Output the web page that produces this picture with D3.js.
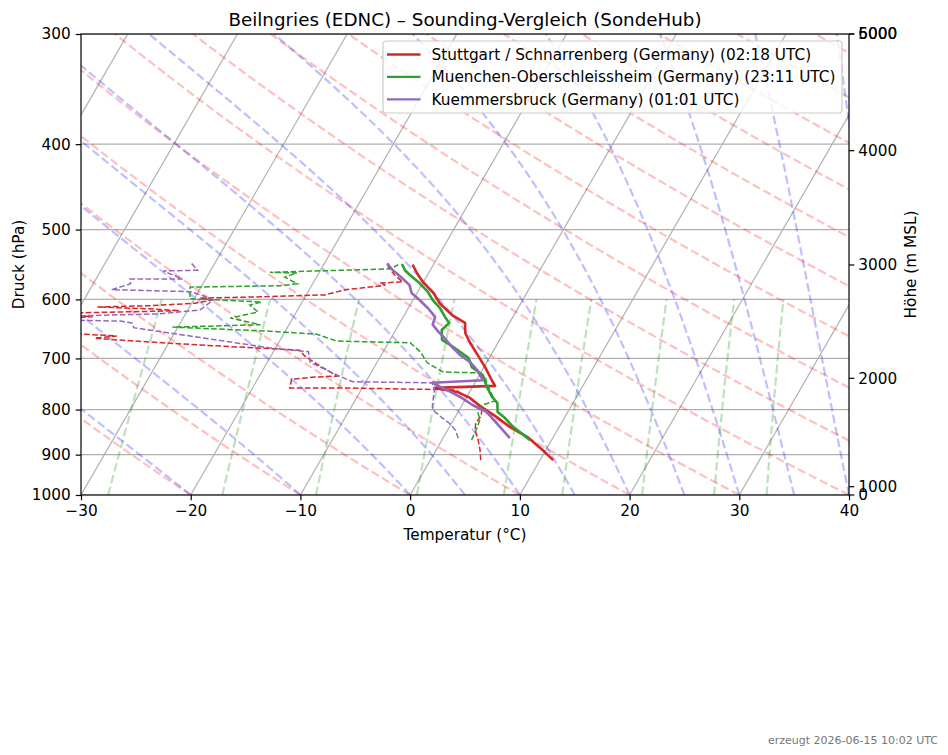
<!DOCTYPE html>
<html>
<head>
<meta charset="utf-8">
<script src="https://cdn.jsdelivr.net/npm/d3@7/dist/d3.min.js"></script>
<style>
  body { margin: 0; background: #fff; }
  text { font-family: "DejaVu Sans", sans-serif; }
</style>
</head>
<body>
<div id="chart"></div>
<script>
// ---- sounding data (pressure hPa, temperature / dewpoint °C), surface upward ----
var stuttgartP  = [913, 889, 859, 837, 816, 795, 776, 764, 756, 752, 741, 716, 694, 672, 655, 638, 625, 606, 590, 574, 560, 548];
var stuttgartT  = [11.2, 9.7, 7.6, 5.5, 3.8, 1.9, 0.35, -1.15, -3.4, 2.0, 1.4, 0.1, -1.2, -2.55, -3.5, -4.05, -5.65, -7.4, -8.5, -10.0, -11.06, -11.9];
var stuttgartDP = [913, 889, 866, 844, 829, 814, 797, 780, 760, 758, 756, 756, 739, 735, 733, 714, 696, 685, 676, 667, 664, 660, 655, 630, 628, 622, 618, 615, 612, 610, 606, 601, 598, 596, 593, 585, 581, 578, 575, 573, 563, 550];
var stuttgartTd = [4.6, 4.0, 3.3, 2.5, 2.2, 2.3, 2.0, 0.6, -1.4, -6.5, -12.0, -16.6, -16.9, -14.9, -12.9, -15.0, -16.9, -17.7, -27.0, -34.9, -37.0, -35.1, -40.4, -41.2, -38.3, -41.5, -30.7, -33.5, -38.4, -33.7, -29.7, -28.3, -29.5, -24.1, -18.3, -16.7, -14.6, -13.3, -13.9, -11.9, -13.0, -14.1];

var muenchenP  = [866, 851, 837, 818, 805, 786, 774, 754, 731, 716, 699, 679, 667, 650, 638, 628, 614, 601, 588, 575, 563, 556, 547];
var muenchenT  = [8.0, 6.9, 5.8, 4.6, 3.6, 3.1, 2.3, 1.3, 0.3, -1.1, -1.9, -3.9, -5.25, -5.8, -5.5, -6.2, -7.1, -8.2, -9.1, -10.3, -11.6, -12.3, -12.9];
var muenchenDP = [866, 844, 822, 805, 791, 782, 764, 737, 727, 725, 708, 688, 672, 669, 657, 652, 645, 641, 630, 620, 609, 604, 599, 581, 579, 576, 566, 560, 559, 554, 548];
var muenchenTd = [2.7, 2.6, 2.4, 1.8, 1.8, 2.8, 1.9, 0.7, -0.3, -3.5, -5.4, -6.6, -8.0, -14.8, -17.0, -21.4, -30.5, -22.6, -25.7, -23.5, -24.6, -23.7, -30.4, -31.0, -22.9, -21.4, -22.9, -22.0, -24.5, -13.7, -13.2];

var kuemP  = [862, 829, 805, 791, 774, 760, 746, 741, 721, 707, 694, 679, 664, 653, 641, 628, 614, 601, 590, 578, 567, 556, 546];
var kuemT  = [6.1, 4.1, 2.6, 1.0, -0.6, -2.2, -3.9, 0.6, -0.5, -1.5, -2.8, -4.0, -5.1, -6.0, -6.9, -7.1, -8.2, -9.4, -10.5, -11.1, -12.2, -13.4, -14.3];
var kuemDP = [862, 844, 829, 818, 805, 795, 776, 760, 746, 744, 731, 707, 688, 681, 646, 638, 635, 633, 627, 623, 617, 601, 595, 588, 585, 576, 569, 569, 557, 556, 544];
var kuemTd = [1.4, 0.7, -0.2, -1.1, -2.1, -2.6, -3.0, -3.3, -3.9, -11.2, -13.0, -16.1, -16.8, -20.5, -34.0, -34.4, -35.6, -41.1, -41.3, -32.3, -28.9, -28.2, -29.2, -30.7, -38.0, -36.6, -36.9, -32.1, -34.3, -31.2, -32.3];

var stationNames = ["Stuttgart / Schnarrenberg (Germany) (02:18 UTC)",
                    "Muenchen-Oberschleissheim (Germany) (23:11 UTC)",
                    "Kuemmersbruck (Germany) (01:01 UTC)"];

// ---- axis ticks ----
var tempTicks = [-30, -20, -10, 0, 10, 20, 30, 40];
var pressureTicks = [1000, 900, 800, 700, 600, 500, 400, 300];
var heightLabels = [0, 1000, 2000, 3000, 4000, 5000, 6000];
var heightTickP  = [1000, 978.6, 737.3, 548.4, 406.9, 300, 300];

// ---- background line parameters ----
var isotherms = d3.range(-50, 41, 10);
var dryT0 = d3.range(-30, 201, 10);
var moistT0 = [-30, -20, -10, 0, 5, 10, 15, 20, 25, 30, 35, 40, 45];
var mixingRatios = [0.0004, 0.001, 0.002, 0.004, 0.007, 0.01, 0.016, 0.024, 0.032];

var margin = {top: 34, left: 81},
    width = 768,
    height = 461,
    fs = "15.3px";

var svg = d3.select("#chart")
    .append("svg")
    .attr("width", 948)
    .attr("height", 755);

var g = svg.append("g")
    .attr("transform", "translate(" + margin.left + "," + margin.top + ")");

var x = d3.scaleLinear().domain([-30, 40]).range([0, width]);
var y = d3.scaleLog().domain([1000, 300]).range([height, 0]);
var skew = Math.tan(30 * Math.PI / 180);

// skewed position of a (T, p) point
function px(T, p) { return x(T) + (height - y(p)) * skew; }

var line = d3.line()
    .x(function(d) { return px(d[0], d[1]); })
    .y(function(d) { return y(d[1]); });

g.append("clipPath").attr("id", "plot-clip")
    .append("rect").attr("width", width).attr("height", height);

var plot = g.append("g").attr("clip-path", "url(#plot-clip)");

// grid
plot.selectAll(".hgrid")
    .data(pressureTicks)
    .enter().append("line")
    .attr("x1", 0).attr("x2", width)
    .attr("y1", function(d) { return y(d); })
    .attr("y2", function(d) { return y(d); })
    .style("stroke", "#b0b0b0").style("stroke-width", 1.2);

plot.selectAll(".isotherm")
    .data(isotherms)
    .enter().append("path")
    .attr("d", function(t) { return line([[t, 1000], [t, 300]]); })
    .style("fill", "none").style("stroke", "#b0b0b0").style("stroke-width", 1.2);

var pLevels = d3.range(1000, 299, -10);

// dry adiabats
var Rd = 287.04749, Cp = 1004.6662, Lv = 2.50084e6, eps = 0.6219569;
plot.selectAll(".dry")
    .data(dryT0)
    .enter().append("path")
    .attr("d", function(t0) {
        return line(pLevels.map(function(p) {
            return [(t0 + 273.15) * Math.pow(p / 1000, Rd / Cp) - 273.15, p];
        }));
    })
    .style("fill", "none").style("stroke", "red").style("stroke-opacity", 0.25)
    .style("stroke-width", 2.2).style("stroke-dasharray", "8.5,3.7");

// moist adiabats
function satVap(T) { return 6.112 * Math.exp(17.67 * (T - 273.15) / (T - 29.65)); }
function dTdp(p, T) {
    var es = satVap(T);
    var rs = eps * es / (p - es);
    var frac = (Rd * T + Lv * rs) / (Cp + (Lv * Lv * rs * eps / (Rd * T * T)));
    return frac / p;
}
function moistAdiabat(t0) {
    var T = t0 + 273.15, pts = [[t0, 1000]], h = -2;
    for (var p = 1000; p > 300; p += h) {
        var k1 = dTdp(p, T),
            k2 = dTdp(p + h / 2, T + h / 2 * k1),
            k3 = dTdp(p + h / 2, T + h / 2 * k2),
            k4 = dTdp(p + h, T + h * k3);
        T += h / 6 * (k1 + 2 * k2 + 2 * k3 + k4);
        pts.push([T - 273.15, p + h]);
    }
    return pts;
}
plot.selectAll(".moist")
    .data(moistT0)
    .enter().append("path")
    .attr("d", function(t0) { return line(moistAdiabat(t0)); })
    .style("fill", "none").style("stroke", "blue").style("stroke-opacity", 0.25)
    .style("stroke-width", 2.2).style("stroke-dasharray", "8.5,3.7");

// mixing ratio lines
var mixLevels = d3.range(1000, 599, -10);
plot.selectAll(".mixing")
    .data(mixingRatios)
    .enter().append("path")
    .attr("d", function(w) {
        return line(mixLevels.map(function(p) {
            var l = Math.log(p * w / (eps + w) / 6.112);
            return [243.5 * l / (17.67 - l), p];
        }));
    })
    .style("fill", "none").style("stroke", "green").style("stroke-opacity", 0.25)
    .style("stroke-width", 2.2).style("stroke-dasharray", "8.5,3.7");

// soundings
var stations = [
    {name: stationNames[0], color: "#d62728", p: stuttgartP, t: stuttgartT, dp: stuttgartDP, td: stuttgartTd},
    {name: stationNames[1], color: "#2ca02c", p: muenchenP, t: muenchenT, dp: muenchenDP, td: muenchenTd},
    {name: stationNames[2], color: "#9467bd", p: kuemP, t: kuemT, dp: kuemDP, td: kuemTd}
];

stations.forEach(function(s) {
    plot.append("path")
        .attr("d", line(s.dp.map(function(p, i) { return [s.td[i], p]; })))
        .style("fill", "none").style("stroke", s.color)
        .style("stroke-width", 1.5).style("stroke-dasharray", "5.6,2.4");
    plot.append("path")
        .attr("d", line(s.p.map(function(p, i) { return [s.t[i], p]; })))
        .style("fill", "none").style("stroke", s.color)
        .style("stroke-width", 2.6).style("stroke-linejoin", "round");
});

// axes
var xAxis = g.append("g")
    .attr("transform", "translate(0," + height + ")")
    .call(d3.axisBottom(x).tickValues(tempTicks).tickSize(5.3).tickPadding(5)
        .tickFormat(function(d) { return d < 0 ? "\u2212" + Math.abs(d) : d; }));

var yAxis = g.append("g")
    .call(d3.axisLeft(y).tickValues(pressureTicks).tickSize(5.3).tickPadding(5)
        .tickFormat(d3.format("d")));

var rAxis = g.append("g").attr("transform", "translate(" + width + ",0)");
rAxis.selectAll(".rtick")
    .data(heightLabels)
    .enter().append("g")
    .attr("transform", function(d, i) { return "translate(0," + y(heightTickP[i]) + ")"; })
    .each(function(d) {
        d3.select(this).append("line").attr("x2", 5.3).style("stroke", "#000").style("stroke-width", 1.2);
        d3.select(this).append("text").attr("x", 9.3).attr("dy", "0.35em")
            .style("font-size", fs).text(d);
    });

[xAxis, yAxis].forEach(function(a) {
    a.selectAll("text").style("font-size", fs).style("font-family", "DejaVu Sans").style("fill", "#000");
    a.selectAll("line").style("stroke", "#000").style("stroke-width", 1.2);
    a.select(".domain").remove();
});

g.append("rect")
    .attr("width", width).attr("height", height)
    .style("fill", "none").style("stroke", "#000").style("stroke-width", 1.2);

// labels
svg.append("text")
    .attr("x", margin.left + width / 2).attr("y", 26)
    .attr("text-anchor", "middle").style("font-size", "18.3px")
    .text("Beilngries (EDNC) \u2013 Sounding-Vergleich (SondeHub)");

svg.append("text")
    .attr("x", margin.left + width / 2).attr("y", 540)
    .attr("text-anchor", "middle").style("font-size", fs)
    .text("Temperatur (\u00b0C)");

svg.append("text")
    .attr("transform", "translate(24," + (margin.top + height / 2) + ") rotate(-90)")
    .attr("text-anchor", "middle").style("font-size", fs)
    .text("Druck (hPa)");

svg.append("text")
    .attr("transform", "translate(916," + (margin.top + height / 2) + ") rotate(-90)")
    .attr("text-anchor", "middle").style("font-size", fs)
    .text("H\u00f6he (m MSL)");

svg.append("text")
    .attr("x", 938).attr("y", 744)
    .attr("text-anchor", "end").style("font-size", "11px").style("fill", "#777")
    .text("erzeugt 2026-06-15 10:02 UTC");

// legend
var legend = g.append("g").attr("transform", "translate(302,7)");
legend.append("rect")
    .attr("width", 459).attr("height", 72).attr("rx", 3)
    .style("fill", "#fff").style("fill-opacity", 0.8)
    .style("stroke", "#cccccc").style("stroke-width", 1.2);
var items = legend.selectAll(".item")
    .data(stations)
    .enter().append("g")
    .attr("transform", function(d, i) { return "translate(0," + (13.5 + i * 22.4) + ")"; });
items.append("line")
    .attr("x1", 4).attr("x2", 37.5)
    .style("stroke", function(d) { return d.color; }).style("stroke-width", 2.3);
items.append("text")
    .attr("x", 48.5).attr("dy", "0.35em")
    .style("font-size", fs)
    .text(function(d) { return d.name; });
</script>
</body>
</html>
